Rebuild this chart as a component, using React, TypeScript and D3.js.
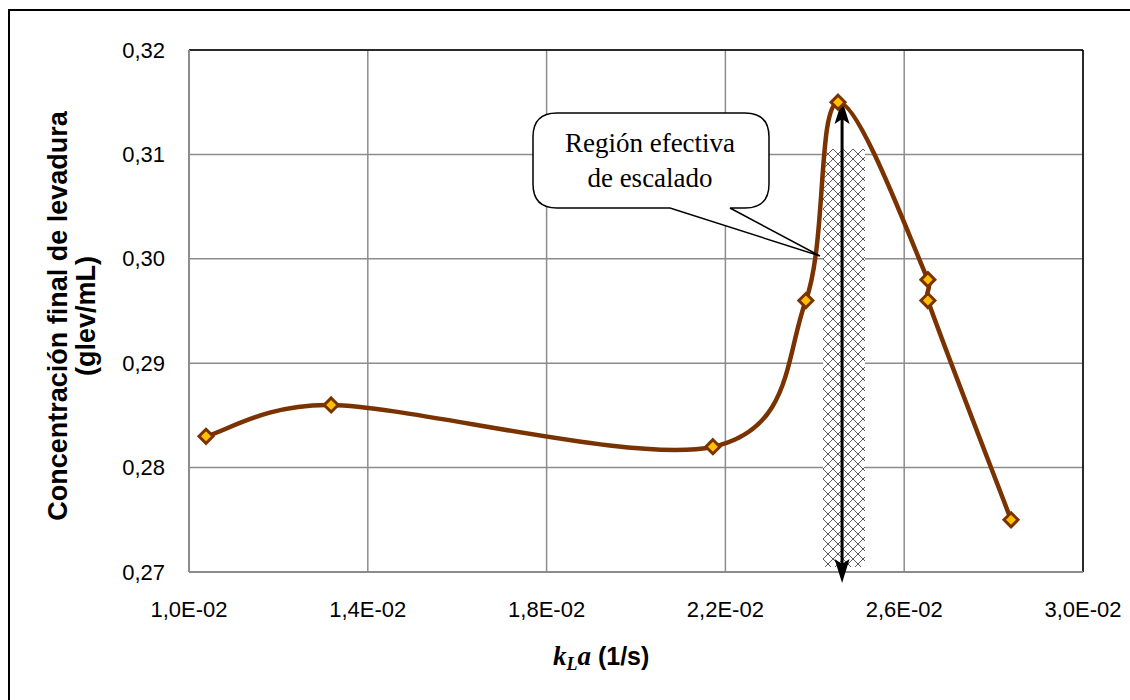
import React from "react";
import * as d3 from "d3";

const kLa = [0.01038, 0.01318, 0.02172, 0.0238, 0.02452, 0.02653, 0.02653, 0.02839];
const conc = [0.283, 0.286, 0.282, 0.296, 0.315, 0.298, 0.296, 0.275];
const xTicks = [0.01, 0.014, 0.018, 0.022, 0.026, 0.03];
const xTickLabels = ["1,0E-02", "1,4E-02", "1,8E-02", "2,2E-02", "2,6E-02", "3,0E-02"];
const yTicks = [0.27, 0.28, 0.29, 0.3, 0.31, 0.32];
const yTickLabels = ["0,27", "0,28", "0,29", "0,30", "0,31", "0,32"];
const regionX = [0.024184, 0.025123];
const regionY = [0.27048, 0.31052];
const arrowX = 0.02461;
const arrowY = [0.26895, 0.3152];
const calloutLines = ["Región efectiva", "de escalado"];

const L = 189, R = 1083, T = 50, B = 572;

// Excel-like smoothed line: uniform Catmull-Rom Bezier with handles limited to half the segment length
function smoothPath(p: [number, number][]): string {
  const path = d3.path();
  const n = p.length;
  path.moveTo(p[0][0], p[0][1]);
  const clamp = (h: [number, number], max: number): [number, number] => {
    const len = Math.hypot(h[0], h[1]);
    if (len > max && len > 0) return [(h[0] * max) / len, (h[1] * max) / len];
    return h;
  };
  for (let i = 0; i < n - 1; i++) {
    const p0 = p[Math.max(0, i - 1)];
    const p1 = p[i];
    const p2 = p[i + 1];
    const p3 = p[Math.min(n - 1, i + 2)];
    const seg = Math.hypot(p2[0] - p1[0], p2[1] - p1[1]);
    const h1 = clamp([(p2[0] - p0[0]) / 6, (p2[1] - p0[1]) / 6], seg * 0.5);
    const h2 = clamp([(p3[0] - p1[0]) / 6, (p3[1] - p1[1]) / 6], seg * 0.5);
    path.bezierCurveTo(p1[0] + h1[0], p1[1] + h1[1], p2[0] - h2[0], p2[1] - h2[1], p2[0], p2[1]);
  }
  return path.toString();
}

export default function App() {
  const x = d3.scaleLinear().domain([0.01, 0.03]).range([L, R]);
  const y = d3.scaleLinear().domain([0.27, 0.32]).range([B, T]);
  const pts: [number, number][] = kLa.map((v, i) => [x(v), y(conc[i])]);
  const line = smoothPath(pts);

  const ax = x(arrowX);
  const aTop = y(arrowY[1]);
  const aBot = y(arrowY[0]);
  const hl = 24, hw = 7.5, notch = 5;

  // callout geometry
  const cx0 = 533, cy0 = 113, cx1 = 769, cy1 = 208, r = 24;
  const tail1 = 670, tail2 = 730, tipX = 820, tipY = 256;
  const callout = `M${cx0 + r},${cy0} L${cx1 - r},${cy0} Q${cx1},${cy0} ${cx1},${cy0 + r} L${cx1},${cy1 - r} Q${cx1},${cy1} ${cx1 - r},${cy1} L${tail2},${cy1} L${tipX},${tipY} L${tail1},${cy1} L${cx0 + r},${cy1} Q${cx0},${cy1} ${cx0},${cy1 - r} L${cx0},${cy0 + r} Q${cx0},${cy0} ${cx0 + r},${cy0} Z`;

  const sans = "'Liberation Sans', Arial, sans-serif";
  const serif = "'Liberation Serif', 'Times New Roman', serif";

  return (
    <svg width={1130} height={700} style={{ position: "absolute", left: 0, top: 0, background: "#fff" }}>
      <defs>
        <pattern id="hatch" width={10} height={10} patternUnits="userSpaceOnUse" x={x(regionX[0])} y={y(regionY[1])}>
          <rect width={10} height={10} fill="#fff" />
          <path d="M0,0 L10,10 M10,0 L0,10" stroke="#555" strokeWidth={1} />
        </pattern>
      </defs>
      <rect x={1} y={1} width={1128} height={698} fill="#fff" />
      <rect x={9} y={10} width={1140} height={720} fill="none" stroke="#000" strokeWidth={2} />

      {/* gridlines */}
      {yTicks.map((t, i) => (
        <line key={"gy" + i} x1={L} x2={R} y1={y(t)} y2={y(t)} stroke="#8c8c8c" strokeWidth={1.5} />
      ))}
      {xTicks.map((t, i) => (
        <line key={"gx" + i} x1={x(t)} x2={x(t)} y1={T} y2={B} stroke="#8c8c8c" strokeWidth={1.5} />
      ))}
      {/* plot border */}
      <line x1={L} x2={R} y1={T} y2={T} stroke="#000" strokeWidth={1.5} />
      <line x1={R} x2={R} y1={T} y2={B} stroke="#000" strokeWidth={1.5} />
      <line x1={L} x2={L} y1={T} y2={B} stroke="#8c8c8c" strokeWidth={2} />
      <line x1={L} x2={R} y1={B} y2={B} stroke="#8c8c8c" strokeWidth={2} />

      {/* tick labels */}
      {yTicks.map((t, i) => (
        <text key={"ly" + i} x={165} y={y(t) + 7.5} textAnchor="end" fontFamily={sans} fontSize={22} fill="#000">
          {yTickLabels[i]}
        </text>
      ))}
      {xTicks.map((t, i) => (
        <text key={"lx" + i} x={x(t)} y={617} textAnchor="middle" fontFamily={sans} fontSize={22} fill="#000">
          {xTickLabels[i]}
        </text>
      ))}

      {/* hatched region */}
      <rect
        x={x(regionX[0])}
        y={y(regionY[1])}
        width={x(regionX[1]) - x(regionX[0])}
        height={y(regionY[0]) - y(regionY[1])}
        fill="url(#hatch)"
      />

      {/* arrow */}
      <line x1={ax} x2={ax} y1={aTop + hl - notch} y2={aBot - hl + notch} stroke="#000" strokeWidth={3} />
      <path d={`M${ax},${aTop} L${ax - hw},${aTop + hl} L${ax},${aTop + hl - notch} L${ax + hw},${aTop + hl} Z`} fill="#000" />
      <path d={`M${ax},${aBot} L${ax - hw},${aBot - hl} L${ax},${aBot - hl + notch} L${ax + hw},${aBot - hl} Z`} fill="#000" />

      {/* curve */}
      <path d={line} fill="none" stroke="#7a3300" strokeWidth={4.5} />
      {pts.map((p, i) => (
        <path
          key={"m" + i}
          d={`M${p[0]},${p[1] - 7} L${p[0] + 7},${p[1]} L${p[0]},${p[1] + 7} L${p[0] - 7},${p[1]} Z`}
          fill="#ffc000"
          stroke="#7a3300"
          strokeWidth={3}
        />
      ))}

      {/* callout */}
      <path d={callout} fill="#fff" stroke="#000" strokeWidth={1.5} />
      {calloutLines.map((s, i) => (
        <text key={"c" + i} x={650} y={152 + i * 35} textAnchor="middle" fontFamily={serif} fontSize={27} fill="#000">
          {s}
        </text>
      ))}

      {/* y axis title */}
      <g transform={`translate(56,316) rotate(-90)`}>
        <text x={0} y={11} textAnchor="middle" fontFamily={sans} fontWeight="bold" fontSize={27} fill="#000">
          Concentración final de levadura
        </text>
        <text x={0} y={39} textAnchor="middle" fontFamily={sans} fontWeight="bold" fontSize={27} fill="#000">
          (glev/mL)
        </text>
      </g>

      {/* x axis title */}
      <text x={553} y={665} fill="#000">
        <tspan fontFamily={serif} fontStyle="italic" fontWeight="bold" fontSize={27}>k</tspan>
        <tspan fontFamily={serif} fontStyle="italic" fontWeight="bold" fontSize={18} dy={5}>L</tspan>
        <tspan fontFamily={serif} fontStyle="italic" fontWeight="bold" fontSize={27} dy={-5}>a</tspan>
        <tspan fontFamily={sans} fontWeight="bold" fontSize={25}> (1/s)</tspan>
      </text>
    </svg>
  );
}
